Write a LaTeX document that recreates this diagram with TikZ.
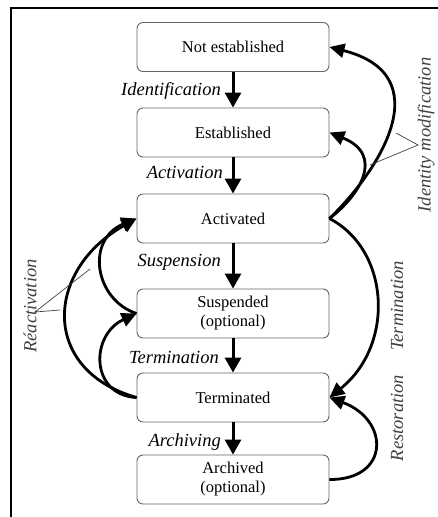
\documentclass[tikz,border=0pt]{standalone}
\usepackage{fontspec}
\setmainfont{Liberation Serif}
\usetikzlibrary{arrows.meta}
\begin{document}
\begin{tikzpicture}[x=1pt,y=-1pt,
 state/.style={draw=black!60, line width=0.9pt, rounded corners=6pt, minimum width=192pt, minimum height=49pt, align=center, inner sep=0pt, font=\fontsize{16.5}{19}\selectfont},
 flow/.style={line width=3pt, -{Triangle[length=15pt,width=16pt]}},
 arc/.style={line width=2.8pt, -{Triangle[length=15pt,width=14pt]}},
 lab/.style={font=\fontsize{18.5}{20}\selectfont\itshape, inner sep=0pt},
 side/.style={lab, text=black!75, rotate=90},
 ptr/.style={line width=0.7pt, draw=black!75}]
\useasboundingbox (0,0) rectangle (438,517);
% frame
\draw[line width=2.5pt] (440,8) -- (11,8) -- (11,519);
% states
\node[state] (ne)  at (233,47)    {Not established};
\node[state] (es)  at (233,132.5) {Established};
\node[state] (act) at (233,218.5) {Activated};
\node[state] (sus) at (233,313.5) {Suspended\\(optional)};
\node[state] (ter) at (233,397.5) {Terminated};
\node[state] (arc) at (233,479.5) {Archived\\(optional)};
% vertical transitions
\draw[flow] (ne) -- (es);
\draw[flow] (es) -- (act);
\draw[flow] (act) -- (sus);
\draw[flow] (sus) -- (ter);
\draw[flow] (ter) -- (arc);
\node[lab, anchor=east] at (221,91)  {Identification};
\node[lab, anchor=east] at (223,172) {Activation};
\node[lab, anchor=east] at (221,262) {Suspension};
\node[lab, anchor=east] at (219,357) {Termination};
\node[lab, anchor=east] at (221,442) {Archiving};
% right-hand arcs
\draw[arc] (act.east) .. controls (380,170) and (440,75) .. (ne.east);
\draw[arc] (act.east) .. controls (360,195) and (385,155) .. (es.east);
\draw[arc] (act.east) .. controls (390,250) and (395,345) .. (ter.east);
\draw[arc] (arc.east) .. controls (390,480) and (390,420) .. (ter.east);
% left-hand arcs
\draw[arc] (ter.west) .. controls (40,370) and (45,270) .. (act.west);
\draw[arc] (sus.west) .. controls (95,300) and (85,240) .. (act.west);
\draw[arc] (ter.west) .. controls (90,395) and (90,335) .. (sus.west);
% side labels
\node[side] (idm) at (426,135) {Identity modification};
\node[side] (trm) at (397,306) {Termination};
\node[side] (rst) at (397,418) {Restoration};
\node[side] (rea) at (30,306)  {Réactivation};
% pointer lines
\coordinate (idapex) at (418,145);
\coordinate (idouter) at (396,133);
\coordinate (idinner) at (370,165);
\draw[ptr] (idouter) -- (idapex) -- (idinner);
\coordinate (reapex) at (35,312);
\coordinate (reinner) at (90,269);
\coordinate (reouter) at (60,310);
\draw[ptr] (reinner) -- (reapex) -- (reouter);
\end{tikzpicture}
\end{document}
